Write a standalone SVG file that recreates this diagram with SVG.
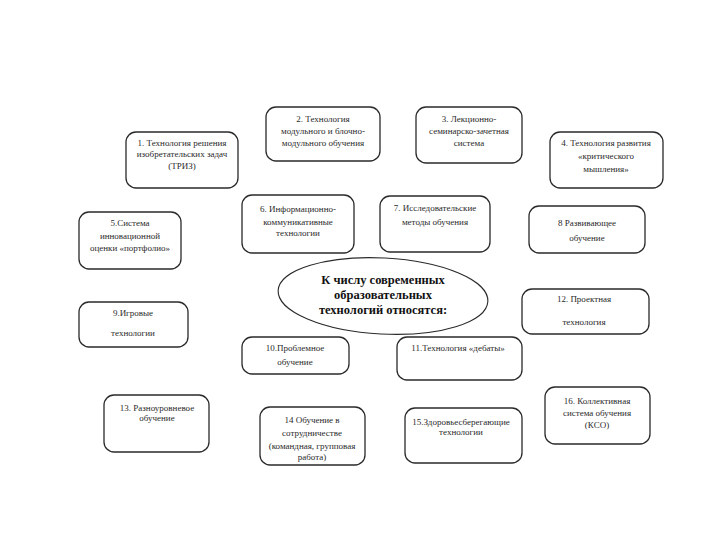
<svg xmlns="http://www.w3.org/2000/svg" width="720" height="540" viewBox="0 0 720 540">
<style>
.box{fill:#fff;stroke:#2a2a2a;stroke-width:1.3}
.t{font-family:"Liberation Serif","Times New Roman",serif;font-size:9px;fill:#2a2a2a;text-anchor:middle}
.c{font-family:"Liberation Serif","Times New Roman",serif;font-size:12.5px;font-weight:bold;fill:#111;text-anchor:middle}
.ell{fill:#fff;stroke:#2a2a2a;stroke-width:1.1}
</style>
<rect width="720" height="540" fill="#fff"/>
<g id="connectors"></g>
<g id="center">
<ellipse class="ell" cx="383" cy="296" rx="105" ry="38" transform="rotate(3 383 296)"/>
<text class="c" x="383" y="284">К числу современных</text>
<text class="c" x="383" y="299">образовательных</text>
<text class="c" x="383" y="314">технологий относятся:</text>
</g>
<g id="n1"><rect class="box" x="126" y="132" width="112" height="56" rx="10"/>
<text class="t" x="182" y="146">1. Технология решения</text><text class="t" x="182" y="157">изобретательских задач</text><text class="t" x="182" y="169">(ТРИЗ)</text></g>
<g id="n2"><rect class="box" x="266" y="107" width="114" height="54" rx="10"/>
<text class="t" x="323" y="122">2. Технология</text><text class="t" x="323" y="134">модульного и блочно-</text><text class="t" x="323" y="146">модульного обучения</text></g>
<g id="n3"><rect class="box" x="416" y="107" width="106" height="56" rx="10"/>
<text class="t" x="469" y="122">3. Лекционно-</text><text class="t" x="469" y="134">семинарско-зачетная</text><text class="t" x="469" y="146">система</text></g>
<g id="n4"><rect class="box" x="550" y="132" width="113" height="56" rx="10"/>
<text class="t" x="606" y="146">4. Технология развития</text><text class="t" x="606" y="159">«критического</text><text class="t" x="606" y="172">мышления»</text></g>
<g id="n5"><rect class="box" x="79" y="212" width="102" height="57" rx="10"/>
<text class="t" x="130" y="226">5.Система</text><text class="t" x="130" y="239">инновационной</text><text class="t" x="130" y="251">оценки «портфолио»</text></g>
<g id="n6"><rect class="box" x="242" y="195" width="112" height="58" rx="10"/>
<text class="t" x="298" y="212">6. Информационно-</text><text class="t" x="298" y="225">коммуникативные</text><text class="t" x="298" y="236">технологии</text></g>
<g id="n7"><rect class="box" x="380" y="196" width="110" height="56" rx="10"/>
<text class="t" x="435" y="211">7. Исследовательские</text><text class="t" x="435" y="225">методы обучения</text></g>
<g id="n8"><rect class="box" x="529" y="206" width="116" height="47" rx="10"/>
<text class="t" x="587" y="226">8 Развивающее</text><text class="t" x="587" y="241">обучение</text></g>
<g id="n9"><rect class="box" x="79" y="302" width="109" height="45" rx="10"/>
<text class="t" x="133" y="316">9.Игровые</text><text class="t" x="133" y="336">технологии</text></g>
<g id="n10"><rect class="box" x="242" y="337" width="107" height="37" rx="10"/>
<text class="t" x="295" y="351">10.Проблемное</text><text class="t" x="295" y="365">обучение</text></g>
<g id="n11"><rect class="box" x="397" y="337" width="125" height="43" rx="10"/>
<text class="t" x="458" y="351">11.Технология «дебаты»</text></g>
<g id="n12"><rect class="box" x="522" y="289" width="127" height="45" rx="10"/>
<text class="t" x="584" y="302">12. Проектная</text><text class="t" x="584" y="325">технология</text></g>
<g id="n13"><rect class="box" x="104" y="395" width="105" height="57" rx="10"/>
<text class="t" x="157" y="411">13. Разноуровневое</text><text class="t" x="157" y="421">обучение</text></g>
<g id="n14"><rect class="box" x="260" y="407" width="105" height="58" rx="10"/>
<text class="t" x="312" y="423">14 Обучение в</text><text class="t" x="312" y="436">сотрудничестве</text><text class="t" x="312" y="449">(командная, групповая</text><text class="t" x="312" y="460">работа)</text></g>
<g id="n15"><rect class="box" x="405" y="408" width="117" height="55" rx="10"/>
<text class="t" x="461" y="425">15.Здоровьесберегающие</text><text class="t" x="461" y="435">технологии</text></g>
<g id="n16"><rect class="box" x="545" y="387" width="105" height="57" rx="10"/>
<text class="t" x="597" y="404">16. Коллективная</text><text class="t" x="597" y="416">система обучения</text><text class="t" x="597" y="428">(КСО)</text></g>
</svg>
